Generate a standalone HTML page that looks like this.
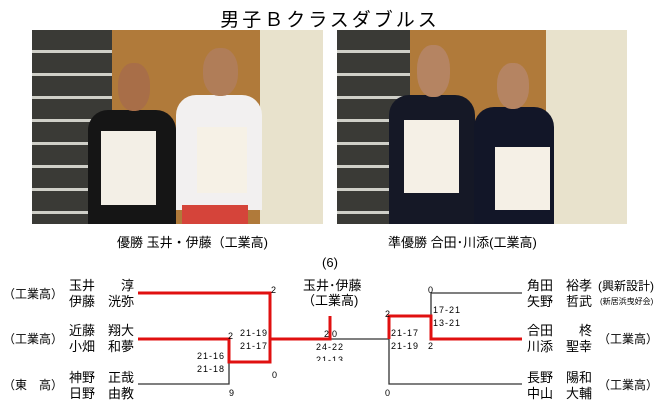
<!DOCTYPE html>
<html><head><meta charset="utf-8"><style>
body{margin:0;width:660px;height:408px;background:#fff;position:relative;overflow:hidden;font-family:"Liberation Sans","Noto Sans CJK JP",sans-serif;color:#000}
.a{position:absolute;white-space:nowrap}
.n{font-size:13px;line-height:16px}
.t{font-size:12px;line-height:16px}
.s{font-size:9px;line-height:10px;letter-spacing:1px}
.d{position:absolute}
</style></head><body>
<div class="a" style="left:0;width:660px;text-align:center;top:5px;font-size:19px;letter-spacing:3px">男子Ｂクラスダブルス</div>

<!-- left photo -->
<div class="d" style="left:32px;top:30px;width:291px;height:194px;background:#b07a3a;overflow:hidden">
<div class="d" style="left:0;top:0;width:80px;height:194px;background:repeating-linear-gradient(#3a3a36 0 20px,#cfcfc8 20px 23px)"></div>
<div class="d" style="left:228px;top:0;width:63px;height:194px;background:#e8e2cc"></div>
<div class="d" style="left:56px;top:80px;width:88px;height:114px;background:#151515;border-radius:20px 20px 0 0"></div>
<div class="d" style="left:86px;top:33px;width:32px;height:48px;background:#a86e48;border-radius:45%"></div>
<div class="d" style="left:69px;top:101px;width:55px;height:74px;background:#f3efe6"></div>
<div class="d" style="left:144px;top:65px;width:86px;height:115px;background:#f2f0f0;border-radius:20px 20px 0 0"></div>
<div class="d" style="left:150px;top:175px;width:66px;height:19px;background:#d5443a"></div>
<div class="d" style="left:171px;top:18px;width:35px;height:48px;background:#b07d58;border-radius:45%"></div>
<div class="d" style="left:165px;top:97px;width:50px;height:66px;background:#f6f1e6"></div>
</div>
<!-- right photo -->
<div class="d" style="left:337px;top:30px;width:290px;height:194px;background:#b07a3a;overflow:hidden">
<div class="d" style="left:0;top:0;width:73px;height:194px;background:repeating-linear-gradient(#3a3a36 0 20px,#cfcfc8 20px 23px)"></div>
<div class="d" style="left:209px;top:0;width:81px;height:194px;background:#e8e2cc"></div>
<div class="d" style="left:52px;top:65px;width:86px;height:129px;background:#151826;border-radius:20px 20px 0 0"></div>
<div class="d" style="left:80px;top:15px;width:33px;height:52px;background:#b58462;border-radius:45%"></div>
<div class="d" style="left:67px;top:90px;width:55px;height:73px;background:#f5f0e6"></div>
<div class="d" style="left:137px;top:77px;width:80px;height:117px;background:#121628;border-radius:20px 20px 0 0"></div>
<div class="d" style="left:160px;top:33px;width:32px;height:46px;background:#b58462;border-radius:45%"></div>
<div class="d" style="left:158px;top:117px;width:55px;height:63px;background:#f5f0e6"></div>
</div>
<div class="a" style="left:117px;top:232px;font-size:13px">優勝 玉井・伊藤（工業高)</div>
<div class="a" style="left:388px;top:232px;font-size:13px">準優勝 合田･川添(工業高)</div>

<svg class="d" style="left:0;top:0" width="660" height="408">
<g stroke="#333" stroke-width="1.3" fill="none">
<polyline points="138,384 229,384 229,362"/>
<polyline points="330,339 389,339 389,384 522,384"/>
<polyline points="431,316 431,293 522,293"/>
</g>
<g stroke="#e01010" stroke-width="3" fill="none">
<polyline points="138,293 270,293 270,362 229,362 229,339 138,339"/>
<polyline points="270,339 330,339 330,316"/>
<polyline points="389,339 389,316 431,316 431,339 522,339"/>
</g>
</svg>

<div class="a n" style="left:330px;top:255px;width:0"><span style="position:absolute;transform:translateX(-50%)">(6)</span></div>
<div class="a n" style="left:303px;top:278px;font-size:13px">玉井･伊藤</div>
<div class="a n" style="left:302px;top:293px;font-size:13px">（工業高)</div>

<div class="a t" style="left:3px;top:286px">（工業高）</div>
<div class="a t" style="left:3px;top:331px">（工業高）</div>
<div class="a t" style="left:3px;top:377px">（東　高）</div>
<div class="a n" style="left:69px;top:278px">玉井　　淳<br>伊藤　洸弥</div>
<div class="a n" style="left:69px;top:323px">近藤　翔大<br>小畑　和夢</div>
<div class="a n" style="left:69px;top:370px">神野　正哉<br>日野　由教</div>

<div class="a n" style="left:527px;top:278px">角田　裕孝<br>矢野　哲武</div>
<div class="a n" style="left:527px;top:323px">合田　　柊<br>川添　聖幸</div>
<div class="a n" style="left:527px;top:370px">長野　陽和<br>中山　大輔</div>
<div class="a n" style="left:598px;top:278px;font-size:12px">(興新設計)</div>
<div class="a" style="left:600px;top:296px;font-size:8px">(新居浜曳好会)</div>
<div class="a t" style="left:598px;top:331px">（工業高）</div>
<div class="a t" style="left:598px;top:377px">（工業高）</div>

<div class="a s" style="left:271px;top:285px">2</div>
<div class="a s" style="left:240px;top:328px">21-19</div>
<div class="a s" style="left:240px;top:341px">21-17</div>
<div class="a s" style="left:228px;top:331px">2</div>
<div class="a s" style="left:197px;top:351px">21-16</div>
<div class="a s" style="left:197px;top:364px">21-18</div>
<div class="a s" style="left:272px;top:370px">0</div>
<div class="a s" style="left:229px;top:388px">9</div>
<div class="a s" style="left:324px;top:329px">2</div>
<div class="a s" style="left:332px;top:329px">0</div>
<div class="a s" style="left:316px;top:342px">24-22</div>
<div class="a s" style="left:316px;top:355px;height:6px;overflow:hidden">21-13</div>
<div class="a s" style="left:428px;top:285px">0</div>
<div class="a s" style="left:433px;top:305px">17-21</div>
<div class="a s" style="left:433px;top:318px">13-21</div>
<div class="a s" style="left:385px;top:309px">2</div>
<div class="a s" style="left:391px;top:328px">21-17</div>
<div class="a s" style="left:391px;top:341px">21-19</div>
<div class="a s" style="left:428px;top:341px">2</div>
<div class="a s" style="left:385px;top:388px">0</div>
</body></html>
